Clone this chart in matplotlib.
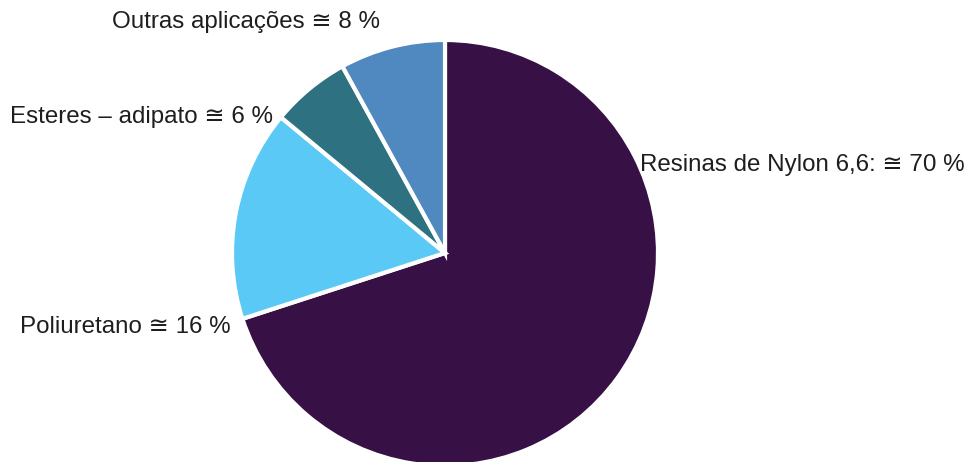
import matplotlib
matplotlib.use("Agg")
import matplotlib.pyplot as plt

# usage shares of adipic acid (%)
categories = ["Resinas de Nylon 6,6:", "Poliuretano", "Esteres – adipato", "Outras aplicações"]
shares = [70, 16, 6, 8]
colors = ["#371046", "#5BC9F5", "#2E7282", "#4F89BF"]

plt.rcParams['font.family'] = ['Liberation Sans', 'DejaVu Sans']

W, H = 967, 462
fig = plt.figure(figsize=(W / 100, H / 100), dpi=100)

# pie centre at (445, 253) px from top-left, radius 213 px
cx, cy, r = 445, 253, 213
ax = fig.add_axes([(cx - r) / W, (H - cy - r) / H, 2 * r / W, 2 * r / H])
ax.pie(shares, colors=colors, startangle=90, counterclock=False, radius=1,
       wedgeprops=dict(edgecolor="white", linewidth=3))
ax.set_xlim(-1, 1)
ax.set_ylim(-1, 1)
ax.set_aspect("equal")
ax.axis("off")

# label placement in pixels (x, y from top, alignment)
label_pos = [(640, 165, "left"), (20, 327, "left"), (10, 117, "left"), (246, 22, "center")]
for name, val, (px, py, ha) in zip(categories, shares, label_pos):
    fig.text(px / W, 1 - py / H, "%s ≅ %d %%" % (name, val), ha=ha, va="center",
             fontsize=17.4, color="#1e1e1e", family=['Liberation Sans', 'DejaVu Sans'])

fig.savefig("out.png", dpi=100, facecolor="white")
